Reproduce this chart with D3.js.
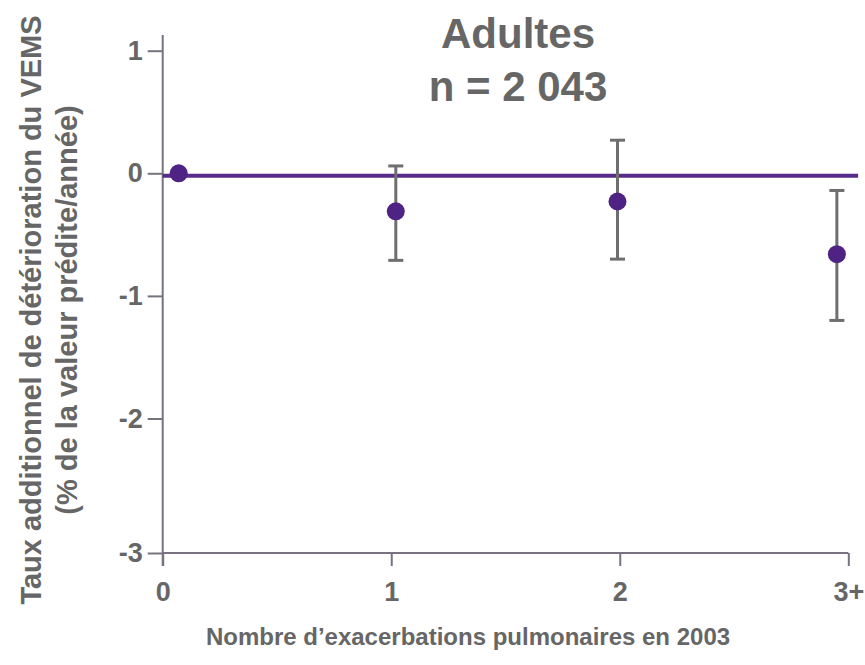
<!DOCTYPE html>
<html>
<head>
<meta charset="utf-8">
<script src="https://cdn.jsdelivr.net/npm/d3@7"></script>
<style>
  html, body { margin: 0; padding: 0; background: #ffffff; }
  svg { display: block; font-family: "Liberation Sans", Arial, Helvetica, sans-serif; font-weight: bold; }
  svg text { font-family: "Liberation Sans", Arial, Helvetica, sans-serif; font-weight: bold; }
</style>
</head>
<body>
<script>
// ---- data ----
const categories = ["0", "1", "2", "3+"];
const xTickValues = [0, 1, 2, 3];
// horizontal position of each point along the category axis
const xPositions = [0.07, 1.02, 1.99, 2.95];
const estimates = [0, -0.31, -0.23, -0.66];
const lowerCI = [null, -0.71, -0.70, -1.20];
const upperCI = [null, 0.06, 0.27, -0.14];
const yTickValues = [1, 0, -1, -2, -3];
const yTickLabels = ["1", "0", "-1", "-2", "-3"];
const referenceValue = -0.02;
const titleLines = ["Adultes", "n = 2 043"];
const yTitleLines = ["Taux additionnel de détérioration du VEMS", "(% de la valeur prédite/année)"];
const xTitle = "Nombre d\u2019exacerbations pulmonaires en 2003";

// ---- styles ----
const textColor = "#666666";
const axisColor = "#787280";
const pointColor = "#4f2383";
const lineColor = "#572b89";
const errColor = "#6e6e6e";

const W = 865, H = 665;
const svg = d3.select("body").append("svg").attr("width", W).attr("height", H);

const x = d3.scaleLinear().domain([0, 3]).range([162.7, 848.3]);
const y = d3.scaleLinear().domain([1, -2, -3]).range([50.7, 418.5, 553]);

// y axis
const yAxis = svg.append("g").attr("transform", `translate(${x(0)},0)`)
  .call(d3.axisLeft(y).tickValues(yTickValues).tickSize(15).tickPadding(5)
    .tickFormat((d, i) => yTickLabels[i]));
yAxis.select(".domain").remove();
yAxis.append("line").attr("x1", 0).attr("x2", 0).attr("y1", 35).attr("y2", 566)
  .attr("stroke", axisColor).attr("stroke-width", 2);
yAxis.selectAll(".tick line").attr("stroke", axisColor).attr("stroke-width", 2);
yAxis.selectAll(".tick text").attr("fill", textColor).style("font-size", "27px");

// x axis
const xAxis = svg.append("g").attr("transform", `translate(0,${y(-3)})`)
  .call(d3.axisBottom(x).tickValues(xTickValues).tickSize(13).tickPadding(16)
    .tickFormat((d, i) => categories[i]));
xAxis.select(".domain").remove();
xAxis.append("line").attr("x1", x(0)).attr("x2", x(3)).attr("y1", 0).attr("y2", 0)
  .attr("stroke", axisColor).attr("stroke-width", 2);
xAxis.selectAll(".tick line").attr("stroke", axisColor).attr("stroke-width", 2);
xAxis.selectAll(".tick text").attr("fill", textColor).style("font-size", "27px");

// reference line
svg.append("line")
  .attr("x1", x(0)).attr("x2", x(3.043))
  .attr("y1", y(referenceValue)).attr("y2", y(referenceValue))
  .attr("stroke", lineColor).attr("stroke-width", 4);

// error bars
const data = estimates.map((v, i) => ({ x: xPositions[i], v, lo: lowerCI[i], hi: upperCI[i] }));
const eb = svg.append("g").selectAll("g").data(data.filter(d => d.lo !== null)).join("g");
eb.append("line").attr("x1", d => x(d.x)).attr("x2", d => x(d.x))
  .attr("y1", d => y(d.hi)).attr("y2", d => y(d.lo))
  .attr("stroke", errColor).attr("stroke-width", 3);
eb.append("line").attr("x1", d => x(d.x) - 7.5).attr("x2", d => x(d.x) + 7.5)
  .attr("y1", d => y(d.hi)).attr("y2", d => y(d.hi))
  .attr("stroke", errColor).attr("stroke-width", 3);
eb.append("line").attr("x1", d => x(d.x) - 7.5).attr("x2", d => x(d.x) + 7.5)
  .attr("y1", d => y(d.lo)).attr("y2", d => y(d.lo))
  .attr("stroke", errColor).attr("stroke-width", 3);

// points
svg.append("g").selectAll("circle").data(data).join("circle")
  .attr("cx", d => x(d.x)).attr("cy", d => y(d.v)).attr("r", 9)
  .attr("fill", pointColor);

// title
svg.append("g").selectAll("text").data(titleLines).join("text")
  .attr("x", 518).attr("y", (d, i) => 48 + i * 53)
  .attr("text-anchor", "middle").style("font-size", "42px").attr("fill", textColor)
  .text(d => d);

// y title
svg.append("g").selectAll("text").data(yTitleLines).join("text")
  .attr("transform", (d, i) => `translate(${41 + i * 36},310) rotate(-90)`)
  .attr("text-anchor", "middle").style("font-size", "29px").attr("fill", textColor)
  .text(d => d);

// x title
svg.append("text").attr("x", 468).attr("y", 645)
  .attr("text-anchor", "middle").style("font-size", "24px").attr("fill", textColor)
  .text(xTitle);
</script>
</body>
</html>
